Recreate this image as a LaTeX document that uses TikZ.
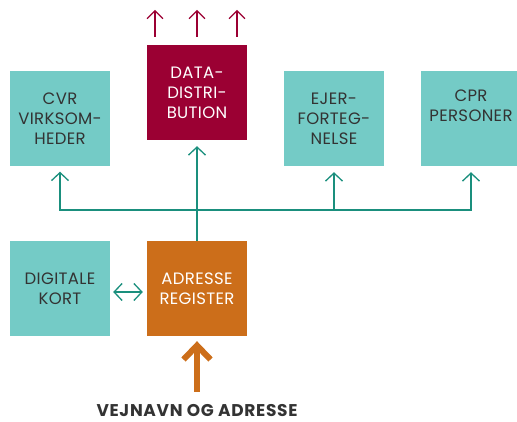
\documentclass[tikz,border=0pt]{standalone}
\usepackage{fontspec}
\setmainfont{Poppins}[LetterSpace=2]
\usetikzlibrary{arrows.meta}
\definecolor{boxteal}{HTML}{74CBC6}
\definecolor{lineteal}{HTML}{1A8F7D}
\definecolor{datared}{HTML}{9B0033}
\definecolor{adrorange}{HTML}{CC6E1A}
\definecolor{boxtext}{HTML}{333333}
\begin{document}
\begin{tikzpicture}[x=1pt, y=1pt,
	regbox/.style={minimum width=100pt, minimum height=95pt, inner sep=0pt, align=center,
		font=\fontsize{16.5}{20}\selectfont},
	tealbox/.style={regbox, fill=boxteal, text=boxtext},
	tealarrow/.style={draw=lineteal, line width=1.3pt, -{Straight Barb[length=8pt, width=17pt]}},
	redarrow/.style={draw=datared, line width=1.3pt, -{Straight Barb[length=8pt, width=16pt]}}]
	\useasboundingbox (0,0) rectangle (517,421);
	% registre
	\node[tealbox]                       (cvr)  at (60,302.5)  {CVR\\VIRKSOM-\\HEDER};
	\node[regbox, fill=datared, text=white] (data) at (197,328.5) {DATA-\\DISTRI-\\BUTION};
	\node[tealbox]                       (ejer) at (334,302.5) {EJER-\\FORTEG-\\NELSE};
	\node[tealbox]                       (cpr)  at (471,302.5) {CPR\\PERSONER\\\strut};
	\node[tealbox]                       (dig)  at (60,132.5)  {DIGITALE\\KORT};
	\node[regbox, fill=adrorange, text=white] (adr) at (197,132.5) {ADRESSE\\REGISTER};
	\node[font=\bfseries\fontsize{17}{18}\selectfont\addfontfeatures{LetterSpace=4}, text=boxtext, anchor=base, inner sep=1pt] (input) at (197,5) {VEJNAVN OG ADRESSE};
	% forbindelser
	\coordinate (bus) at (197,211);
	\draw[tealarrow, shorten >=-0.5pt] (bus) -| ([yshift=-6pt]cvr.south);
	\draw[tealarrow] (bus) -| ([yshift=-6pt]ejer.south);
	\draw[tealarrow] (bus) -| ([yshift=-6pt]cpr.south);
	\draw[tealarrow] (adr.north) -- ([yshift=-6pt]data.south);
	\draw[tealarrow, {Straight Barb[length=8pt, width=17pt]}-{Straight Barb[length=8pt, width=17pt]}] ([xshift=3pt,yshift=-3.5pt]dig.east) -- ([xshift=-4pt,yshift=-3.5pt]adr.west);
	\foreach \dx in {-42,0,40}
		\draw[redarrow] ([xshift=\dx pt, yshift=8pt]data.north) -- ++(0,27);
	\draw[draw=adrorange, line width=6pt, -{Straight Barb[length=14pt, width=27pt]}]
		([yshift=11pt]input.north) -- ([yshift=-5pt]adr.south);
\end{tikzpicture}
\end{document}
